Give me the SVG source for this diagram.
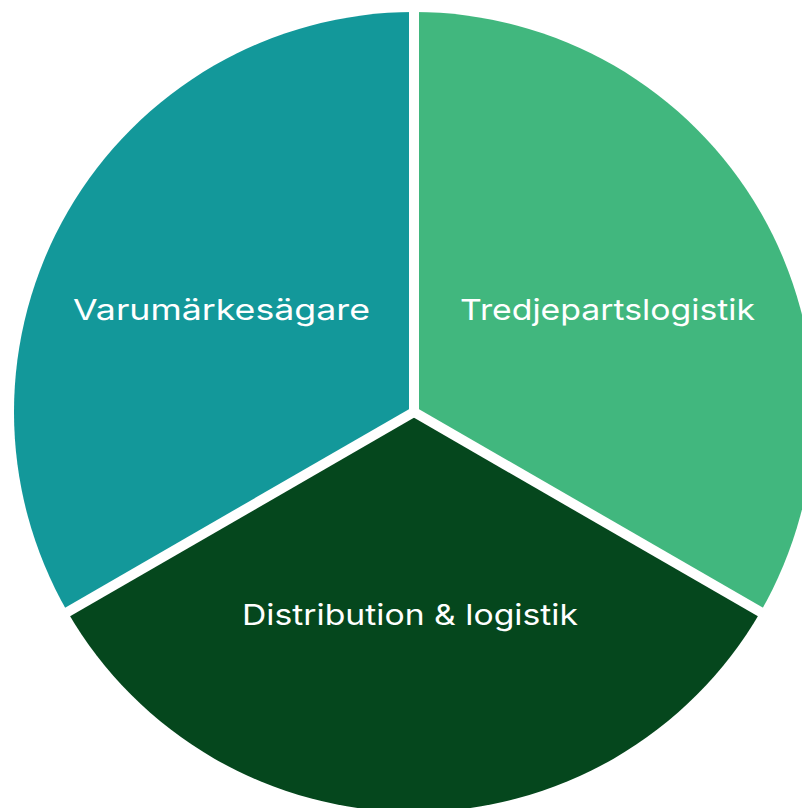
<svg xmlns="http://www.w3.org/2000/svg" width="802" height="808" viewBox="0 0 802 808">
  <style>
    .lbl { font-family: Inter, "Open Sans", "Liberation Sans", sans-serif; font-size: 29px; fill: #ffffff; text-anchor: middle; }
    .sep { stroke: #ffffff; stroke-width: 10; fill: none; }
  </style>
  <rect x="0" y="0" width="802" height="808" fill="#ffffff"/>
  <g id="node-varumarkesagare">
    <path d="M414,412 L414,12 A400,400 0 0 0 67.59,612 Z" fill="#13989A"/>
    <text class="lbl" x="221.5" y="319.5" textLength="297" lengthAdjust="spacingAndGlyphs">Varumärkesägare</text>
  </g>
  <g id="node-tredjepartslogistik">
    <path d="M414,412 L414,12 A400,400 0 0 1 760.41,612 Z" fill="#41B77E"/>
    <text class="lbl" x="607.5" y="320" textLength="295" lengthAdjust="spacingAndGlyphs">Tredjepartslogistik</text>
  </g>
  <g id="node-distribution">
    <path d="M414,412 L67.59,612 A400,400 0 0 0 760.41,612 Z" fill="#05471D"/>
    <text class="lbl" x="410" y="624.5" textLength="336" lengthAdjust="spacingAndGlyphs">Distribution &amp; logistik</text>
  </g>
  <g id="connectors">
    <line class="sep" x1="414" y1="412" x2="414" y2="0"/>
    <line class="sep" x1="414" y1="412" x2="50.27" y2="622"/>
    <line class="sep" x1="414" y1="412" x2="777.73" y2="622"/>
  </g>
</svg>
